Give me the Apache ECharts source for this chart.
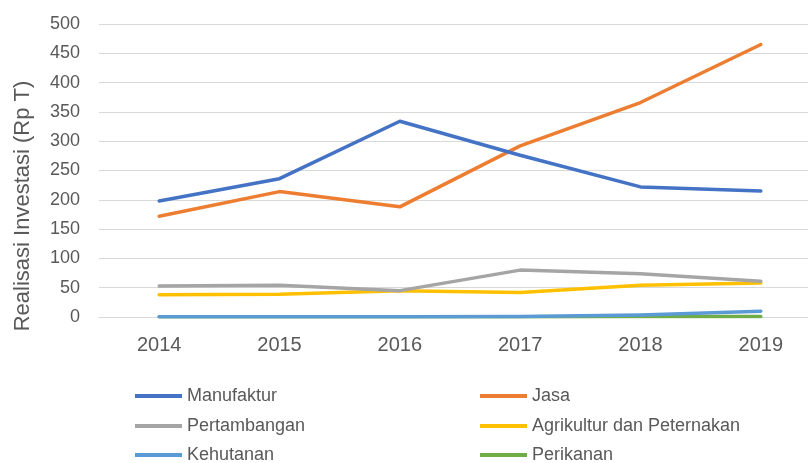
<!DOCTYPE html>
<html>
<head>
<meta charset="utf-8">
<script src="https://cdn.jsdelivr.net/npm/echarts@6/dist/echarts.min.js"></script>
<style>
html,body{margin:0;padding:0;background:#fff;}
#c{width:808px;height:463px;}
</style>
</head>
<body>
<div id="c"></div>
<script>
var years = ['2014','2015','2016','2017','2018','2019'];
var manufaktur = [198, 236, 334, 276, 222, 215];
var jasa = [172, 214, 188, 292, 366, 465];
var pertambangan = [53, 54, 45, 80, 74, 61];
var agrikultur = [38, 39, 45, 42, 54, 58];
var kehutanan = [0.5, 0.5, 0.5, 1, 3.5, 10];
var perikanan = [0.5, 0.5, 0.5, 0.5, 0.8, 1];
var yTicks = [0, 50, 100, 150, 200, 250, 300, 350, 400, 450, 500];
var yTitle = 'Realisasi Investasi (Rp T)';

var names = ['Manufaktur','Jasa','Pertambangan','Agrikultur dan Peternakan','Kehutanan','Perikanan'];
var colors = ['#4472C4','#ED7D31','#A5A5A5','#FFC000','#5B9BD5','#70AD47'];
var datas = [manufaktur, jasa, pertambangan, agrikultur, kehutanan, perikanan];
var FONT = '"Liberation Sans", Arial, sans-serif';

var series = names.map(function(n,i){
  return {
    name: n, type: 'line', data: datas[i], symbol: 'none', smooth: false,
    lineStyle: {width: 3.5, color: colors[i], cap: 'round', join: 'round'},
    itemStyle: {color: colors[i]},
    z: 10 - i
  };
});

var legendPos = [[135,386],[480,386],[135,416],[480,416],[135,445],[480,445]];
var legends = names.map(function(n,i){
  return {
    left: legendPos[i][0], top: legendPos[i][1], data: [n],
    icon: 'rect', itemWidth: 47, itemHeight: 4, padding: 0,
    textStyle: {fontFamily: FONT, fontSize: 18, color: '#595959', lineHeight: 20}
  };
});

var chart = echarts.init(document.getElementById('c'));
chart.setOption({
  animation: false,
  backgroundColor: '#fff',
  grid: {left: 99, top: 24, width: 722, height: 293, containLabel: false, outerBoundsMode: 'none'},
  xAxis: {
    type: 'category', data: years, boundaryGap: true,
    axisLine: {show: true, lineStyle: {color: '#D9D9D9', width: 1}},
    axisTick: {show: false},
    axisLabel: {fontFamily: FONT, fontSize: 20, color: '#595959', margin: 18}
  },
  yAxis: {
    type: 'value', min: yTicks[0], max: yTicks[yTicks.length-1], interval: 50,
    axisLine: {show: false}, axisTick: {show: false},
    splitLine: {lineStyle: {color: '#D9D9D9', width: 1}},
    axisLabel: {fontFamily: FONT, fontSize: 18, color: '#595959', margin: 19}
  },
  graphic: [{
    type: 'text', x: 23, y: 206, rotation: Math.PI / 2,
    style: {text: yTitle, fontFamily: FONT, fontSize: 22, fill: '#595959',
            textAlign: 'center', textVerticalAlign: 'middle'}
  }],
  legend: legends,
  series: series
});
</script>
</body>
</html>
